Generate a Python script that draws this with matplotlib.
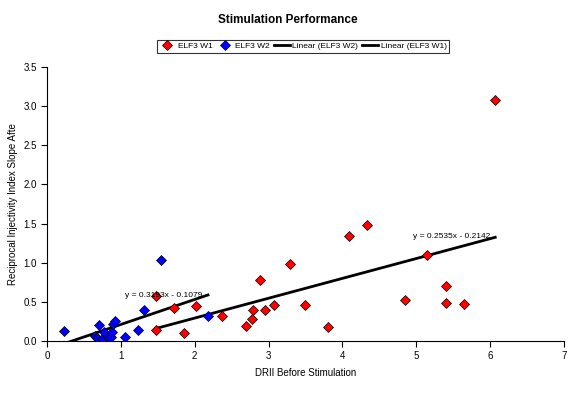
import numpy as np
import matplotlib
matplotlib.use("Agg")
import matplotlib.pyplot as plt

plt.rcParams['font.family'] = ['Liberation Sans', 'DejaVu Sans']

# ELF3 W1 (red)
w1_x = [1.48, 1.48, 1.72, 1.86, 2.02, 2.37, 2.69, 2.77, 2.79, 2.89, 2.95, 3.08,
        3.29, 3.50, 3.81, 4.09, 4.33, 4.85, 5.14, 5.41, 5.41, 5.65, 6.07]
w1_y = [0.575, 0.137, 0.42, 0.106, 0.45, 0.32, 0.19, 0.28, 0.40, 0.775, 0.39, 0.455,
        0.98, 0.455, 0.175, 1.337, 1.48, 0.53, 1.10, 0.70, 0.485, 0.47, 3.08]

# ELF3 W2 (blue)
w2_x = [0.23, 0.65, 0.68, 0.70, 0.745, 0.77, 0.82, 0.86, 0.88, 0.89, 0.92, 1.06,
        1.23, 1.32, 1.55, 2.18]
w2_y = [0.128, 0.06, 0.035, 0.20, 0.02, 0.115, 0.055, 0.055, 0.115, 0.22, 0.25, 0.055,
        0.14, 0.39, 1.04, 0.32]

# trendline coefficients (slope, intercept) as shown on the chart
w1_fit = (0.2535, -0.2142)
w2_fit = (0.3193, -0.1079)

fig = plt.figure(figsize=(5.76, 3.94), dpi=100)
ax = fig.add_axes([0.0816, 0.1345, 0.8974, 0.6955])

ax.plot(w1_x, w1_y, 'D', color='#ff0000', mec='black', mew=0.5, ms=4.6,
        label='ELF3 W1', zorder=3)
ax.plot(w2_x, w2_y, 'D', color='#0000ff', mec='black', mew=0.5, ms=4.6,
        label='ELF3 W2', zorder=3)

xs2 = np.linspace(min(w2_x), max(w2_x), 50)
ax.plot(xs2, w2_fit[0] * xs2 + w2_fit[1], color='black', lw=2,
        label='Linear (ELF3 W2)', zorder=2)
xs1 = np.linspace(min(w1_x), max(w1_x), 50)
ax.plot(xs1, w1_fit[0] * xs1 + w1_fit[1], color='black', lw=2,
        label='Linear (ELF3 W1)', zorder=2)

ax.text(1.05, 0.56, 'y = %.4fx - %.4f' % (w2_fit[0], -w2_fit[1]), fontsize=6)
ax.text(4.95, 1.31, 'y = %.4fx - %.4f' % (w1_fit[0], -w1_fit[1]), fontsize=6)

ax.set_xlim(0, 7)
ax.set_ylim(0, 3.5)
ax.set_xticks(range(0, 8))
ax.set_yticks(np.arange(0, 3.51, 0.5))
ax.yaxis.set_major_formatter(matplotlib.ticker.FormatStrFormatter('%.1f'))
ax.spines['top'].set_visible(False)
ax.spines['right'].set_visible(False)
ax.tick_params(labelsize=7, length=4, width=0.8, direction='out')
ax.set_xlabel('DRII Before Stimulation', fontsize=7, labelpad=5)
ax.set_ylabel('Reciprocal Injectivity Index Slope Afte', fontsize=7)

fig.suptitle('Stimulation Performance', fontsize=8.5, fontweight='bold', y=0.965)
leg = fig.legend(loc='center', bbox_to_anchor=(0.526, 0.883), ncol=4, fontsize=6,
                 frameon=True, fancybox=False, edgecolor='black', handlelength=1.9,
                 columnspacing=0.5, handletextpad=0.3, borderpad=0.3, borderaxespad=0)
leg.get_frame().set_linewidth(0.8)

fig.savefig('out.png', dpi=100)
